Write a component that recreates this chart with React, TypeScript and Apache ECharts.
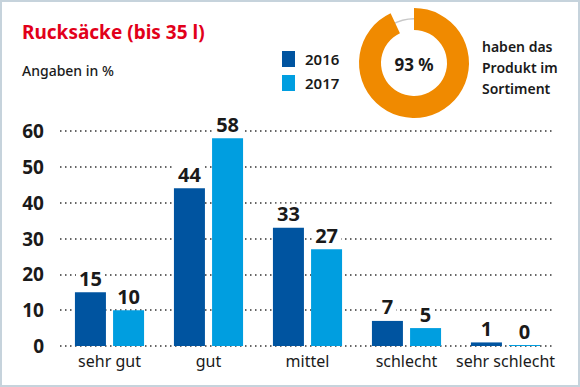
import React, { useEffect, useRef } from "react";
import * as echarts from "echarts";

const categories = ["sehr gut", "gut", "mittel", "schlecht", "sehr schlecht"];
const values2016 = [15, 44, 33, 7, 1];
const values2017 = [10, 58, 27, 5, 0];
const seriesNames = ["2016", "2017"];
const yTicks = { min: 0, max: 60, interval: 10 };
const sharePercent = 93;
const titleText = "Rucksäcke (bis 35 l)";
const subtitleText = "Angaben in %";
const shareText = "haben das\nProdukt im\nSortiment";

const FONT = "'Noto Sans', 'Open Sans', sans-serif";
const DARK = "#0054a0";
const LIGHT = "#009ee0";
const ORANGE = "#f08a00";
const TEXT = "#1a1a1a";

export default function App() {
  const ref = useRef<HTMLDivElement>(null);
  useEffect(() => {
    if (!ref.current) return;
    const chart = echarts.init(ref.current, undefined, { renderer: "svg" });
    const labelCfg = {
      show: true,
      position: "top" as const,
      distance: 4,
      color: TEXT,
      fontFamily: FONT,
      fontWeight: "bold" as const,
      fontSize: 20,
      backgroundColor: "#fff",
      padding: [0, 3, 0, 3],
    };
    chart.setOption({
      animation: false,
      backgroundColor: "#fff",
      textStyle: { fontFamily: FONT },
      title: [
        {
          text: titleText,
          left: 17,
          top: 17,
          textStyle: { color: "#e2001a", fontSize: 19, fontWeight: "bold", fontFamily: FONT },
        },
        {
          text: subtitleText,
          left: 17,
          top: 58,
          textStyle: { color: TEXT, fontSize: 14, fontWeight: 500, fontFamily: FONT },
        },
      ],
      legend: {
        left: 277,
        top: 46,
        orient: "vertical",
        icon: "rect",
        itemWidth: 13,
        itemHeight: 16,
        itemGap: 8,
        data: seriesNames,
        textStyle: { color: TEXT, fontSize: 15, fontWeight: 600, fontFamily: FONT, padding: [0, 0, 0, 5] },
      },
      grid: { left: 60, right: 25, top: 131, bottom: 41 },
      xAxis: {
        type: "category",
        data: categories,
        axisLine: { show: false },
        axisTick: { show: false },
        axisLabel: {
          color: TEXT,
          fontSize: 16,
          fontFamily: FONT,
          margin: 7,
          interval: 0,
          hideOverlap: false,
        },
      },
      yAxis: {
        type: "value",
        min: yTicks.min,
        max: yTicks.max,
        interval: yTicks.interval,
        axisLine: { show: false },
        axisTick: { show: false },
        axisLabel: { color: TEXT, fontSize: 19, fontWeight: "bold", fontFamily: FONT, margin: 16 },
        splitLine: { lineStyle: { color: "#333", width: 1.5, type: [1.5, 3.5] } },
      },
      series: [
        {
          name: seriesNames[0],
          type: "bar",
          data: values2016,
          barWidth: 31,
          barGap: "23%",
          barMinHeight: 1,
          itemStyle: { color: DARK },
          label: labelCfg,
          z: 3,
        },
        {
          name: seriesNames[1],
          type: "bar",
          data: values2017,
          barWidth: 31,
          barMinHeight: 1,
          itemStyle: { color: LIGHT },
          label: labelCfg,
          z: 3,
        },
        {
          type: "pie",
          center: [414, 63],
          radius: [43.5, 45],
          silent: true,
          label: { show: false },
          labelLine: { show: false },
          data: [{ value: 100, itemStyle: { color: "#c8c8c8" } }],
          z: 1,
        },
        {
          type: "pie",
          center: [414, 63],
          radius: [33, 55],
          startAngle: 90,
          clockwise: true,
          silent: true,
          label: { show: false },
          labelLine: { show: false },
          data: [
            { value: sharePercent, itemStyle: { color: ORANGE } },
            { value: 100 - sharePercent, itemStyle: { color: "transparent" } },
          ],
          z: 2,
        },
      ],
      graphic: [
        {
          type: "rect",
          shape: { x: 1, y: 1, width: 578, height: 385 },
          style: { fill: "none", stroke: "#c6d3dc", lineWidth: 2 },
          silent: true,
        },
        {
          type: "text",
          x: 414,
          y: 64,
          style: {
            text: sharePercent + " %",
            fill: TEXT,
            font: `bold 17px ${FONT}`,
            align: "center",
            verticalAlign: "middle",
          },
        },
        {
          type: "text",
          x: 482,
          y: 36,
          style: {
            text: shareText,
            fill: TEXT,
            font: `600 14px ${FONT}`,
            lineHeight: 21,
            align: "left",
            verticalAlign: "top",
          },
        },
      ],
    });
    return () => chart.dispose();
  }, []);
  return (
    <div
      ref={ref}
      style={{ position: "absolute", left: 0, top: 0, width: 580, height: 387 }}
    />
  );
}
